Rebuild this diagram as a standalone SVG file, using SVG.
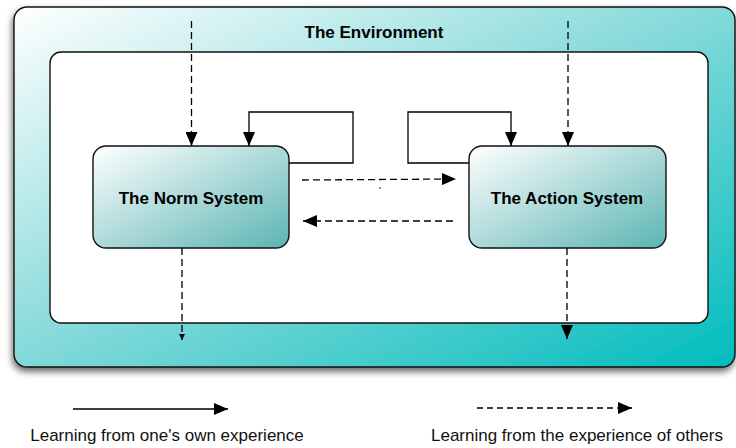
<svg xmlns="http://www.w3.org/2000/svg" width="736" height="448" viewBox="0 0 736 448">
  <defs>
    <linearGradient id="envFill" x1="0" y1="0" x2="1" y2="1">
      <stop offset="0" stop-color="#ffffff"/>
      <stop offset="0.45" stop-color="#8fdcdc"/>
      <stop offset="1" stop-color="#00bcbd"/>
    </linearGradient>
    <linearGradient id="sysFill" x1="0" y1="0" x2="1" y2="1">
      <stop offset="0" stop-color="#ffffff"/>
      <stop offset="1" stop-color="#5bb5b3"/>
    </linearGradient>
    <filter id="shadow" x="-5%" y="-5%" width="110%" height="115%">
      <feDropShadow dx="-1" dy="4" stdDeviation="3.5" flood-color="#000" flood-opacity="0.6"/>
    </filter>
    <marker id="head" markerUnits="userSpaceOnUse" markerWidth="14" markerHeight="12" viewBox="0 0 14 12" refX="14" refY="6" orient="auto">
      <path d="M0,0 L14,6 L0,12 Z" fill="#000"/>
    </marker>
    <marker id="headSmall" markerUnits="userSpaceOnUse" markerWidth="6" markerHeight="6" viewBox="0 0 6 6" refX="6" refY="3" orient="auto">
      <path d="M0,0 L6,3 L0,6 Z" fill="#000"/>
    </marker>
  </defs>
  <style>
    .frame { stroke: #111; stroke-width: 1.4; }
    .title { font-family: "Liberation Sans", Arial, sans-serif; font-weight: bold; font-size: 17px; fill: #000; text-anchor: middle; }
    .legend { font-family: "Liberation Sans", Arial, sans-serif; font-size: 17px; fill: #111; text-anchor: middle; }
    .own { fill: none; stroke: #000; stroke-width: 1.3; }
    .others { fill: none; stroke: #000; stroke-width: 1.3; stroke-dasharray: 7 4; }
    .legend-dash { stroke-dasharray: 6 4; }
  </style>

  <g id="environment">
    <rect x="14" y="7" width="721" height="360" rx="13" fill="url(#envFill)" class="frame" filter="url(#shadow)"/>
    <rect x="50" y="52" width="658" height="271" rx="11" fill="#ffffff" class="frame"/>
    <text x="374" y="38" class="title">The Environment</text>
  </g>

  <g id="norm-system">
    <rect x="93" y="146" width="196" height="102" rx="13" fill="url(#sysFill)" class="frame"/>
    <text x="191" y="204" class="title">The Norm System</text>
  </g>

  <g id="action-system">
    <rect x="469" y="146" width="197" height="102" rx="13" fill="url(#sysFill)" class="frame"/>
    <text x="567" y="204" class="title">The Action System</text>
  </g>

  <g id="connectors">
    <!-- self loops -->
    <path class="own" d="M289,163 H353 V112 H249 V146" marker-end="url(#head)"/>
    <path class="own" d="M469,163 H408 V112 H511 V146" marker-end="url(#head)"/>
    <!-- from the environment into each system -->
    <path class="others" d="M191.5,21 V146" marker-end="url(#head)"/>
    <path class="others" d="M568,21 V146" marker-end="url(#head)"/>
    <!-- between the systems -->
    <path class="others" d="M302,180 L456,179" marker-end="url(#head)"/>
    <path class="others" d="M453,221 H303" marker-end="url(#head)"/>
    <!-- out of each system -->
    <path class="others" d="M182,248 V340" marker-end="url(#headSmall)"/>
    <path class="others" d="M567,248 V339" marker-end="url(#head)"/>
    <circle cx="380" cy="188" r="0.8" fill="#000"/>
  </g>

  <g id="legend">
    <path class="own" d="M73,409 H228" marker-end="url(#head)"/>
    <text x="167" y="441" class="legend">Learning from one's own experience</text>
    <path class="others legend-dash" d="M477,408 H632" marker-end="url(#head)"/>
    <text x="577" y="441" class="legend">Learning from the experience of others</text>
  </g>
</svg>
